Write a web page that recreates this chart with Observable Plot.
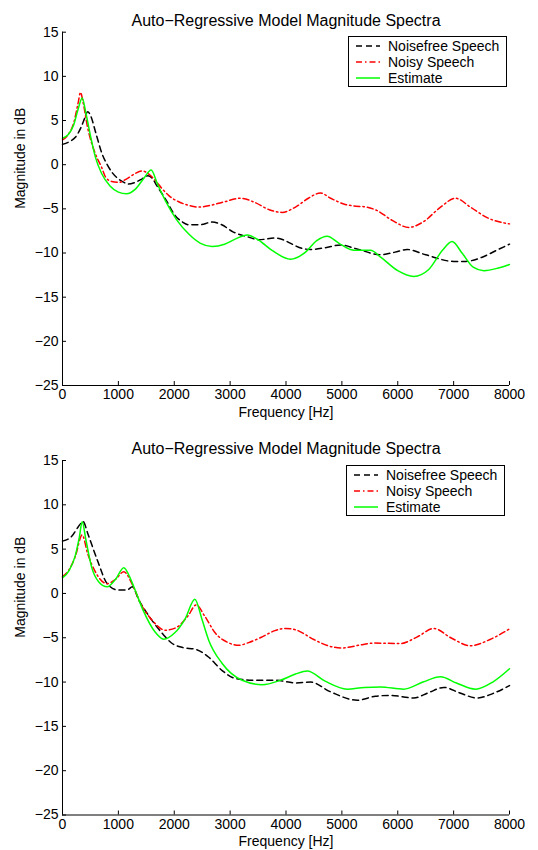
<!DOCTYPE html>
<html>
<head>
<meta charset="utf-8">
<script src="https://cdn.jsdelivr.net/npm/d3@7"></script>
<script src="https://cdn.jsdelivr.net/npm/@observablehq/plot@0.6"></script>
<style>
  body { margin: 0; background: #fff; font-family: "Liberation Sans", Arial, sans-serif; }
  #wrap { position: relative; width: 538px; height: 850px; }
  #wrap svg { display: block; }
  .legend { position: absolute; box-sizing: border-box; width: 159px; height: 51px; border: 1px solid #000; background: #fff; padding-top: 1px; }
  .legend .row { display: flex; align-items: center; height: 16px; font-size: 14px; color: #000; }
  .legend .row svg { margin-left: 7px; margin-right: 8px; }
</style>
</head>
<body>
<div id="wrap"></div>
<script>
// ---------- data ----------
const title = "Auto\u2212Regressive Model Magnitude Spectra";
const xLabel = "Frequency [Hz]";
const yLabel = "Magnitude in dB";
const seriesNames = ["Noisefree Speech", "Noisy Speech", "Estimate"];
const xTicks = [0, 1000, 2000, 3000, 4000, 5000, 6000, 7000, 8000];
const yTicks = [-25, -20, -15, -10, -5, 0, 5, 10, 15];

// top panel: [frequency Hz, magnitude dB]
const topClean = [[0,2.3],[120,2.6],[230,3.1],[330,4.2],[400,5.3],[450,6.0],[500,5.6],[600,3.5],[710,1.2],[800,0.0],[890,-0.9],[1000,-1.6],[1100,-2.0],[1175,-2.2],[1300,-2.0],[1426,-1.6],[1530,-1.25],[1600,-1.5],[1700,-2.5],[1843,-3.9],[2022,-5.8],[2150,-6.5],[2260,-6.8],[2450,-6.8],[2680,-6.5],[2850,-6.8],[3050,-7.6],[3334,-8.2],[3513,-8.5],[3812,-8.3],[3950,-8.5],[4110,-9.0],[4300,-9.5],[4438,-9.6],[4700,-9.4],[4975,-9.1],[5300,-9.6],[5691,-10.2],[5950,-9.9],[6168,-9.6],[6500,-10.2],[7003,-10.95],[7213,-10.95],[7500,-10.5],[7800,-9.6],[8000,-9.0]];
const topNoisy = [[0,2.8],[100,3.4],[200,4.7],[280,7.0],[322,8.2],[370,7.0],[450,4.2],[590,1.2],[700,-0.3],[770,-1.4],[880,-1.9],[1008,-2.0],[1150,-1.6],[1300,-1.0],[1426,-0.7],[1530,-1.0],[1664,-1.8],[1780,-2.7],[1903,-3.5],[2080,-4.2],[2260,-4.6],[2440,-4.8],[2650,-4.6],[2900,-4.2],[3186,-3.8],[3450,-4.3],[3700,-5.1],[3931,-5.4],[4170,-4.8],[4400,-3.8],[4617,-3.2],[4800,-3.8],[5034,-4.45],[5250,-4.7],[5392,-4.75],[5631,-5.2],[5900,-6.3],[6197,-7.1],[6450,-6.5],[6750,-4.9],[7033,-3.8],[7300,-4.8],[7600,-6.0],[8000,-6.7]];
const topEstimate = [[0,3.0],[100,3.4],[200,4.5],[280,6.3],[352,7.55],[420,5.8],[500,3.3],[590,0.83],[700,-1.0],[850,-2.4],[1000,-3.1],[1145,-3.3],[1300,-2.8],[1450,-1.6],[1587,-0.6],[1700,-2.2],[1843,-4.1],[2050,-6.3],[2260,-7.85],[2470,-8.9],[2678,-9.25],[2900,-9.0],[3100,-8.4],[3305,-7.97],[3500,-8.5],[3750,-9.7],[4080,-10.7],[4350,-9.9],[4550,-8.6],[4737,-8.1],[4950,-8.9],[5150,-9.6],[5274,-9.7],[5512,-9.7],[5700,-10.5],[6000,-12.0],[6287,-12.65],[6550,-11.9],[6800,-9.7],[6973,-8.7],[7150,-10.0],[7350,-11.6],[7540,-12.0],[7800,-11.7],[8000,-11.3]];

// bottom panel
const botClean = [[0,5.9],[173,6.5],[280,7.5],[370,8.1],[450,6.8],[621,3.8],[800,1.1],[979,0.4],[1158,0.4],[1250,0.75],[1366,-0.75],[1516,-2.26],[1784,-4.5],[1963,-5.65],[2150,-6.1],[2380,-6.3],[2618,-7.2],[2858,-8.7],[3096,-9.6],[3454,-9.8],[3812,-9.8],[4170,-10.1],[4438,-10.0],[4796,-11.1],[5274,-12.05],[5600,-11.6],[5870,-11.5],[6287,-11.8],[6550,-11.2],[6824,-10.6],[7100,-11.2],[7421,-11.8],[7700,-11.3],[8000,-10.4]];
const botNoisy = [[0,1.9],[120,2.7],[230,4.2],[352,6.6],[450,4.5],[600,2.3],[800,1.1],[950,1.6],[1097,2.45],[1250,1.0],[1396,-1.1],[1600,-3.0],[1843,-4.15],[2050,-3.8],[2250,-2.5],[2390,-1.3],[2550,-2.6],[2738,-4.5],[2950,-5.5],[3155,-5.85],[3350,-5.5],[3574,-4.9],[3800,-4.2],[3991,-3.95],[4170,-4.1],[4498,-5.2],[4750,-5.9],[5005,-6.15],[5300,-5.85],[5571,-5.6],[6049,-5.65],[6350,-4.9],[6646,-3.95],[6950,-5.0],[7302,-5.9],[7650,-5.2],[8000,-4.0]];
const botEstimate = [[0,1.76],[120,2.6],[230,4.3],[300,6.3],[352,8.1],[420,6.0],[520,3.0],[650,1.3],[800,0.75],[950,1.6],[1097,2.9],[1200,1.9],[1276,0.75],[1450,-2.0],[1650,-4.3],[1813,-5.16],[2000,-4.5],[2200,-2.8],[2368,-0.65],[2500,-3.0],[2618,-5.3],[2858,-7.9],[3216,-9.8],[3574,-10.3],[3900,-9.8],[4170,-9.1],[4379,-8.75],[4700,-9.9],[5095,-10.8],[5400,-10.6],[5691,-10.55],[6108,-10.8],[6450,-10.0],[6765,-9.4],[7050,-10.1],[7391,-10.8],[7700,-10.0],[8000,-8.5]];

// ---------- styles ----------
const styles = [
  {stroke: "#000000", dash: "6,4"},
  {stroke: "#ff0000", dash: "6,3,1.5,3"},
  {stroke: "#00ff00", dash: null}
];
const FONT = "'Liberation Sans', Arial, Helvetica, sans-serif";
const W = 538, H = 425, ML = 62, MR = 29;

function minusFmt(d) { return d < 0 ? "\u2212" + (-d) : String(d); }

function panel(series, marginTop, marginBottom) {
  const fh = H - marginTop - marginBottom;
  const fw = W - ML - MR;
  const lines = series.map((arr, i) => Plot.line(arr, {
    x: d => d[0], y: d => d[1],
    stroke: styles[i].stroke, strokeWidth: 1.5,
    strokeDasharray: styles[i].dash || undefined,
    curve: "monotone-x"
  }));
  return Plot.plot({
    width: W, height: H,
    marginLeft: ML, marginRight: MR, marginTop, marginBottom,
    style: {fontFamily: FONT, fontSize: "14px", background: "white", color: "black"},
    x: {domain: [0, 8000]},
    y: {domain: [-25, 15]},
    marks: [
      ...lines,
      Plot.ruleX([0], {stroke: "black", strokeWidth: 1}),
      Plot.ruleY([-25], {stroke: "black", strokeWidth: 1}),
      Plot.tickX(xTicks, {x: d => d, insetTop: fh - 4, stroke: "black"}),
      Plot.tickY(yTicks, {y: d => d, insetRight: fw - 4, stroke: "black"}),
      Plot.axisX(xTicks, {tickSize: 0, tickPadding: 4, tickFormat: d => String(d), label: null, fontSize: 14}),
      Plot.axisY(yTicks, {tickSize: 0, tickPadding: 4, tickFormat: minusFmt, label: null, fontSize: 14}),
      Plot.text([xLabel], {text: d => d, frameAnchor: "bottom", dy: 31, fontSize: 14}),
      Plot.text([yLabel], {text: d => d, frameAnchor: "left", dx: -42, rotate: -90, fontSize: 14}),
      Plot.text([title], {text: d => d, frameAnchor: "top", dy: -18, fontSize: 16})
    ]
  });
}

function legend(left, top) {
  const div = document.createElement("div");
  div.className = "legend";
  div.style.left = left + "px";
  div.style.top = top + "px";
  seriesNames.forEach((name, i) => {
    const row = document.createElement("div");
    row.className = "row";
    const dash = styles[i].dash ? ` stroke-dasharray="${styles[i].dash}"` : "";
    row.innerHTML = `<svg width="24" height="4"><line x1="0" x2="24" y1="2" y2="2" stroke="${styles[i].stroke}" stroke-width="1.5"${dash}/></svg><span>${name}</span>`;
    div.appendChild(row);
  });
  return div;
}

const wrap = document.getElementById("wrap");
wrap.appendChild(panel([topClean, topNoisy, topEstimate], 31.7, 40));
wrap.appendChild(panel([botClean, botNoisy, botEstimate], 35, 35.5));
wrap.appendChild(legend(348, 36));
wrap.appendChild(legend(346, 465));
</script>
</body>
</html>
